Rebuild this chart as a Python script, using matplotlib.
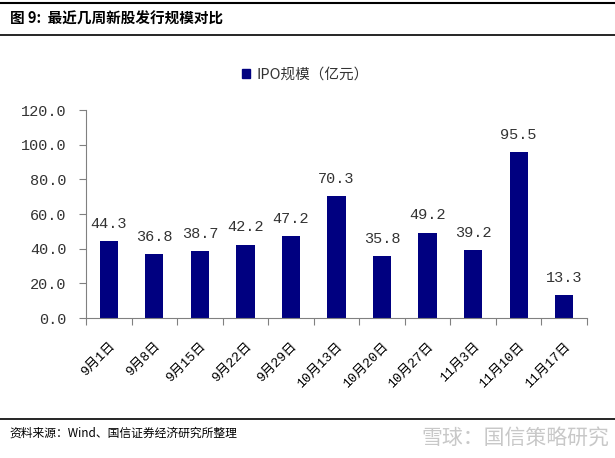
import matplotlib.pyplot as plt
from matplotlib.lines import Line2D
from matplotlib.patches import Patch

plt.rcParams['font.family'] = ['Noto Sans CJK SC', 'DejaVu Sans']

dates = ['9月1日', '9月8日', '9月15日', '9月22日', '9月29日', '10月13日',
         '10月20日', '10月27日', '11月3日', '11月10日', '11月17日']
ipo_size = [44.3, 36.8, 38.7, 42.2, 47.2, 70.3, 35.8, 49.2, 39.2, 95.5, 13.3]
y_ticks = [0, 20, 40, 60, 80, 100, 120]

bar_color = '#000080'
axis_color = '#808080'
text_color = '#333333'
num_font = ['Liberation Mono', 'DejaVu Sans Mono']

fig = plt.figure(figsize=(6.15, 4.58), dpi=100)

# frame lines of the report figure
for y, lw in [(1 - 3 / 458, 1.5), (1 - 35 / 458, 1.2), (1 - 419 / 458, 1.2)]:
    fig.add_artist(Line2D([0, 1], [y, y], color='black', lw=lw))

fig.text(0.016, 1 - 19 / 458, '图 9:  最近几周新股发行规模对比', fontsize=10.5,
         fontweight='bold', va='center', ha='left')
fig.text(0.016, 1 - 433 / 458, '资料来源：Wind、国信证券经济研究所整理', fontsize=8.5,
         va='center', ha='left')
fig.text(0.99, 1 - 438 / 458, '雪球：国信策略研究', fontsize=15, color='#c8c8c8',
         va='center', ha='right')

ax = fig.add_axes([86 / 615, 1 - 318 / 458, (587 - 86) / 615, (318 - 110) / 458])
x = range(len(dates))
ax.bar(x, ipo_size, width=0.4, color=bar_color)
for xi, v in zip(x, ipo_size):
    ax.text(xi, v + 6, f'{v:.1f}', ha='center', va='bottom', fontsize=11,
            color=text_color, family=num_font)

ax.set_xlim(-0.5, len(dates) - 0.5)
ax.set_ylim(0, 120)
ax.set_yticks(y_ticks)
ax.set_yticklabels([f'{t:.1f}' for t in y_ticks], fontsize=11, color=text_color,
                   family=num_font)
ax.set_xticks([i - 0.5 for i in range(len(dates) + 1)], minor=False)
ax.set_xticklabels([''] * (len(dates) + 1))
ax.set_xticks(list(x), minor=True)
ax.set_xticklabels(dates, minor=True, rotation=45, ha='right', rotation_mode='anchor',
                   fontsize=9.5, color='black',
                   family=['Liberation Mono', 'Noto Sans CJK SC'])
ax.tick_params(axis='x', which='minor', length=0, pad=16)
ax.tick_params(axis='both', which='major', length=5, color=axis_color, direction='out')
ax.tick_params(axis='y', pad=9)

for s in ['top', 'right']:
    ax.spines[s].set_visible(False)
for s in ['left', 'bottom']:
    ax.spines[s].set_color(axis_color)

fig.legend(handles=[Patch(color=bar_color, label='IPO规模（亿元）')],
           loc='center', bbox_to_anchor=(305 / 615, 1 - 75 / 458), frameon=False,
           fontsize=10.5, handlelength=0.6, handleheight=0.6, handletextpad=0.4,
           labelcolor=text_color)

fig.savefig('out.png', dpi=100)
